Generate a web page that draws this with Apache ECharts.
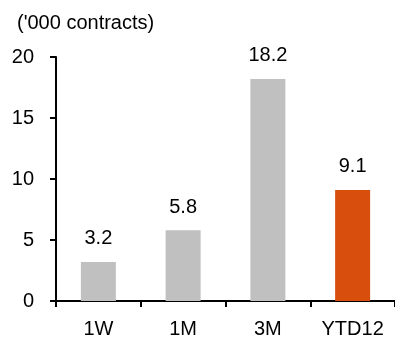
<!DOCTYPE html>
<html>
<head>
<meta charset="utf-8">
<script src="https://cdn.jsdelivr.net/npm/echarts@6/dist/echarts.min.js"></script>
<style>
  html, body { margin: 0; padding: 0; background: #fff; }
  #chart { width: 395px; height: 340px; }
</style>
</head>
<body>
<div id="chart"></div>
<script>
const categories = ['1W', '1M', '3M', 'YTD12'];
const values = [3.2, 5.8, 18.2, 9.1];
const barColors = ['#C0C0C0', '#C0C0C0', '#C0C0C0', '#D84E0C'];
const yTicks = [0, 5, 10, 15, 20];

const chart = echarts.init(document.getElementById('chart'), null, { renderer: 'canvas' });
const font = 'Liberation Sans, Arial, sans-serif';

chart.setOption({
  animation: false,
  title: {
    text: "('000 contracts)",
    left: 12,
    top: 8,
    textStyle: { fontFamily: font, fontSize: 20, fontWeight: 'normal', color: '#000' }
  },
  grid: { left: 56, top: 57, bottom: 39, width: 348 },
  xAxis: {
    type: 'category',
    data: categories,
    axisLine: { lineStyle: { color: '#000', width: 2 } },
    axisTick: { show: true, length: 6, lineStyle: { color: '#000', width: 2 } },
    axisLabel: { color: '#000', fontFamily: font, fontSize: 20, margin: 18 }
  },
  yAxis: {
    type: 'value',
    min: yTicks[0],
    max: yTicks[yTicks.length - 1],
    interval: 5,
    splitLine: { show: false },
    axisLine: { show: true, lineStyle: { color: '#000', width: 2 } },
    axisTick: { show: true, length: 6, lineStyle: { color: '#000', width: 2 } },
    axisLabel: { color: '#000', fontFamily: font, fontSize: 20, margin: 22 }
  },
  series: [{
    type: 'bar',
    barWidth: 35,
    data: values.map((v, i) => ({ value: v, itemStyle: { color: barColors[i] } })),
    label: {
      show: true,
      position: 'top',
      distance: 13,
      color: '#000',
      fontFamily: font,
      fontSize: 20
    }
  }]
});
</script>
</body>
</html>
